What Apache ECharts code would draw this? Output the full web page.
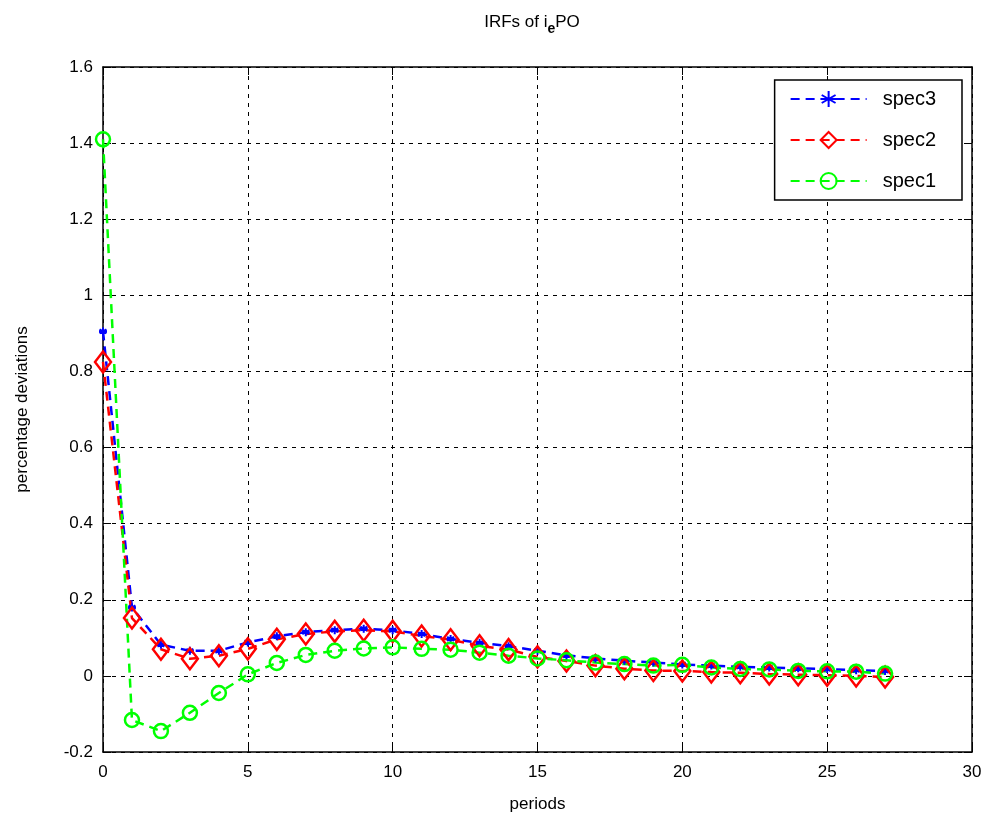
<!DOCTYPE html>
<html>
<head>
<meta charset="utf-8">
<script src="https://cdn.jsdelivr.net/npm/echarts@6/dist/echarts.min.js"></script>
<style>html,body{margin:0;padding:0;background:#fff}#c{width:990px;height:823px}</style>
</head>
<body>
<div id="c"></div>
<script>
var periods = [0,1,2,3,4,5,6,7,8,9,10,11,12,13,14,15,16,17,18,19,20,21,22,23,24,25,26,27];
var spec3 = [0.905,0.18,0.082,0.066,0.066,0.088,0.104,0.115,0.12,0.124,0.12,0.11,0.097,0.087,0.078,0.066,0.054,0.046,0.04,0.035,0.03,0.027,0.024,0.022,0.02,0.018,0.015,0.013];
var spec2 = [0.825,0.152,0.07,0.045,0.053,0.071,0.096,0.11,0.117,0.12,0.117,0.105,0.095,0.079,0.069,0.05,0.039,0.027,0.019,0.014,0.013,0.01,0.008,0.005,0.003,0.002,0.0,-0.003];
var spec1 = [1.41,-0.116,-0.145,-0.097,-0.045,0.004,0.034,0.055,0.066,0.072,0.075,0.071,0.069,0.061,0.053,0.046,0.041,0.035,0.031,0.027,0.029,0.022,0.018,0.017,0.013,0.012,0.011,0.006];
var yTicks = {min:-0.2, max:1.6, interval:0.2};
var xTicks = {min:0, max:30, interval:5};

function pairs(v){ return v.map(function(y,i){ return [periods[i], y]; }); }

var chart = echarts.init(document.getElementById('c'), null, {renderer:'canvas'});
var font = 'Liberation Sans, Arial, sans-serif';
var star = 'path://M0,-10L0,10M-8.66,-5L8.66,5M-8.66,5L8.66,-5M-10,0L10,0';
var dashed = [9,6];
chart.setOption({
  animation:false,
  backgroundColor:'#fff',
  title:{
    text:'{n|IRFs of i}{s|e}{n|PO}',
    left:527, top:3, textAlign:'center',
    textStyle:{rich:{
      n:{fontFamily:font,fontSize:17,color:'#000',fontWeight:'normal'},
      s:{fontFamily:font,fontSize:14,color:'#000',padding:[14,0,0,0]}
    }}
  },
  grid:{left:103,right:18,top:67,bottom:71,containLabel:false},
  legend:{
    right:28, top:80, orient:'vertical',
    backgroundColor:'#fff', borderColor:'#000', borderWidth:1.5,
    padding:[9,26,9,15], itemGap:21, itemWidth:76, itemHeight:20,
    textStyle:{fontFamily:font,fontSize:20,color:'#000',padding:[0,0,0,11]},
    data:['spec3','spec2','spec1']
  },
  xAxis:[{
    type:'value', min:xTicks.min, max:xTicks.max, interval:xTicks.interval,
    name:'periods', nameLocation:'middle', nameGap:44,
    nameTextStyle:{fontFamily:font,fontSize:17,color:'#000'},
    axisLine:{show:true,onZero:false,lineStyle:{color:'#000',width:1.5}},
    axisTick:{show:true,inside:true,length:8,lineStyle:{color:'#000'}},
    axisLabel:{fontFamily:font,fontSize:17,color:'#000',margin:12},
    splitLine:{show:true,lineStyle:{color:'#000',type:[4,5],width:1}}
  },{
    type:'value', position:'top', min:xTicks.min, max:xTicks.max, interval:xTicks.interval,
    axisLine:{show:true,onZero:false,lineStyle:{color:'#000',width:1.5}},
    axisTick:{show:true,inside:true,length:8,lineStyle:{color:'#000'}},
    axisLabel:{show:false}, splitLine:{show:false}
  }],
  yAxis:[{
    type:'value', min:yTicks.min, max:yTicks.max, interval:yTicks.interval,
    name:'percentage deviations', nameLocation:'middle', nameGap:72, nameRotate:90,
    nameTextStyle:{fontFamily:font,fontSize:17,color:'#000'},
    axisLine:{show:true,onZero:false,lineStyle:{color:'#000',width:1.5}},
    axisTick:{show:true,inside:true,length:8,lineStyle:{color:'#000'}},
    axisLabel:{fontFamily:font,fontSize:17,color:'#000',margin:10,
      formatter:function(v){ return String(Math.round(v*10)/10); }},
    splitLine:{show:true,lineStyle:{color:'#000',type:[4,5],width:1}}
  },{
    type:'value', position:'right', min:yTicks.min, max:yTicks.max, interval:yTicks.interval,
    axisLine:{show:true,onZero:false,lineStyle:{color:'#000',width:1.5}},
    axisTick:{show:true,inside:true,length:8,lineStyle:{color:'#000'}},
    axisLabel:{show:false}, splitLine:{show:false}
  }],
  series:[{
    name:'spec3', type:'line', data:pairs(spec3),
    symbol:star, symbolSize:8, showAllSymbol:true,
    lineStyle:{color:'#0000ff',width:2.5,type:dashed},
    itemStyle:{color:'#0000ff',borderColor:'#0000ff',borderWidth:2}
  },{
    name:'spec2', type:'line', data:pairs(spec2),
    symbol:'diamond', symbolSize:[16,21], showAllSymbol:true,
    lineStyle:{color:'#ff0000',width:2.5,type:dashed},
    itemStyle:{color:'rgba(255,255,255,0)',borderColor:'#ff0000',borderWidth:2.5}
  },{
    name:'spec1', type:'line', data:pairs(spec1),
    symbol:'circle', symbolSize:14, showAllSymbol:true,
    lineStyle:{color:'#00ff00',width:2.5,type:dashed},
    itemStyle:{color:'rgba(255,255,255,0)',borderColor:'#00ff00',borderWidth:2.5}
  }]
});
</script>
</body>
</html>
